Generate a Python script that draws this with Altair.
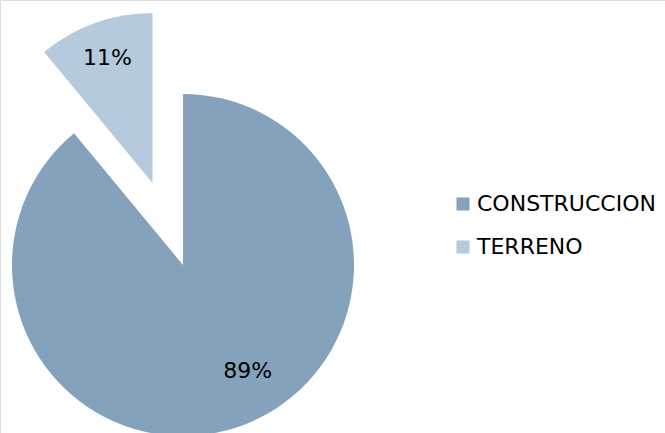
import math
import altair as alt
import pandas as pd

categories = ["CONSTRUCCION", "TERRENO"]
values = [89, 11]
labels = ["89%", "11%"]
colors = ["#84A2BB", "#B5CADC"]

df = pd.DataFrame({"cat": categories, "val": values, "label": labels, "order": [0, 1]})

FONT = "DejaVu Sans"

base = (
    alt.Chart(df)
    .transform_window(cum="sum(val)", sort=[{"field": "order"}])
    .transform_calculate(start="datum.cum - datum.val", mid="datum.cum - datum.val / 2")
)

theta_scale = alt.Scale(domain=[0, 100], range=[0, 2 * math.pi])
color = alt.Color(
    "cat:N",
    scale=alt.Scale(domain=categories, range=colors),
    legend=alt.Legend(
        title=None,
        orient="none",
        legendX=452,
        legendY=193,
        symbolType="square",
        symbolSize=170,
        symbolStrokeWidth=0,
        labelFont=FONT,
        labelFontSize=22,
        labelColor="#000000",
        labelLimit=0,
        rowPadding=21,
        labelOffset=3,
    ),
)

main = base.transform_filter(alt.datum.cat == "CONSTRUCCION").mark_arc(outerRadius=171).encode(
    theta=alt.Theta("start:Q", scale=theta_scale),
    theta2="cum:Q",
    color=color,
    x=alt.value(183),
    y=alt.value(265),
)

expl = base.transform_filter(alt.datum.cat == "TERRENO").mark_arc(outerRadius=170).encode(
    theta=alt.Theta("start:Q", scale=theta_scale),
    theta2="cum:Q",
    color=color,
    x=alt.value(152.5),
    y=alt.value(183),
)

t_main = base.transform_filter(alt.datum.cat == "CONSTRUCCION").mark_text(
    radius=123, dx=23, dy=-10, font=FONT, fontSize=22, color="#000000"
).encode(
    theta=alt.Theta("mid:Q", scale=theta_scale),
    text="label:N",
    x=alt.value(183),
    y=alt.value(265),
)

t_expl = base.transform_filter(alt.datum.cat == "TERRENO").mark_text(
    radius=133, font=FONT, fontSize=22, color="#000000"
).encode(
    theta=alt.Theta("mid:Q", scale=theta_scale),
    text="label:N",
    x=alt.value(152.5),
    y=alt.value(183),
)

chart = (
    alt.layer(main, expl, t_main, t_expl)
    .properties(width=665, height=433, padding=0, autosize=alt.AutoSizeParams(type="none"))
    .configure_view(stroke=None)
    .configure(background="white")
)

chart.save("out.html", embed_options={"renderer": "svg", "actions": False})
